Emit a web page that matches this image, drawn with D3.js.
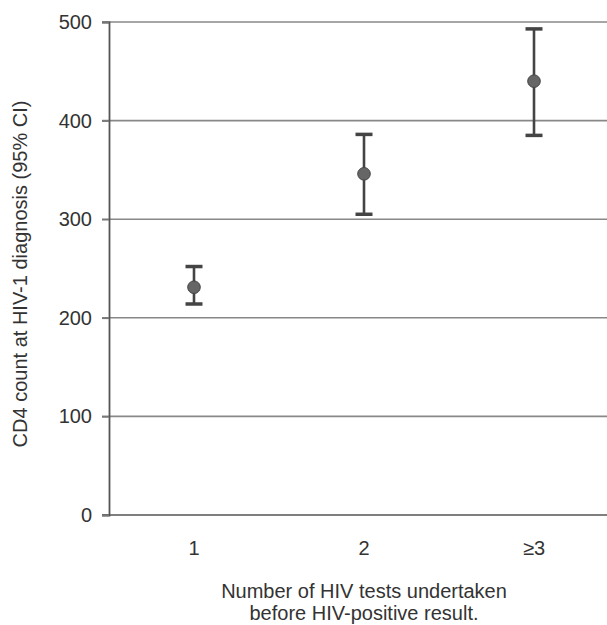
<!DOCTYPE html>
<html>
<head>
<meta charset="utf-8">
<script src="https://cdn.jsdelivr.net/npm/d3@7"></script>
<style>
  body { margin: 0; background: #fff; }
  text { font-family: 'Liberation Sans', Arial, sans-serif; fill: #333; }
</style>
</head>
<body>
<div id="chart"></div>
<script>
/* values */
const categories = ['1', '2', '≥3'];
const means = [231, 346, 440];
const lower = [214, 305, 385];
const upper = [252, 386, 493];
const yTicks = [0, 100, 200, 300, 400, 500];

const width = 607;
const height = 625;

const svg = d3.select('#chart')
  .append('svg')
  .attr('width', width)
  .attr('height', height);

/* x positions 1..3, right part of the panel is cut off like in the scan */
const x = d3.scaleLinear()
  .domain([0.5, 3.5])
  .range([109, 619]);

const y = d3.scaleLinear()
  .domain([0, 500])
  .range([515, 22]);

/* horizontal grid lines */
svg.selectAll('.grid')
  .data(yTicks)
  .enter()
  .append('line')
  .attr('class', 'grid')
  .attr('x1', 102)
  .attr('x2', width)
  .attr('y1', function (d) { return y(d); })
  .attr('y2', function (d) { return y(d); })
  .attr('stroke', function (d) { return d === 0 ? '#555' : '#888'; })
  .attr('stroke-width', 1.6);

/* left axis */
const yAxis = svg.append('g')
  .attr('transform', 'translate(109,0)')
  .call(d3.axisLeft(y).tickValues(yTicks).tickSize(7).tickPadding(10));
yAxis.select('.domain').attr('stroke', '#555').attr('stroke-width', 1.8);
yAxis.selectAll('.tick line').attr('stroke', '#777').attr('stroke-width', 1.6);
yAxis.selectAll('.tick text')
  .style('font-family', "'Liberation Sans', Arial, sans-serif")
  .style('font-size', '20px')
  .attr('fill', '#333');

/* category labels */
svg.selectAll('.xlab')
  .data(categories)
  .enter()
  .append('text')
  .attr('class', 'xlab')
  .attr('x', function (d, i) { return x(i + 1); })
  .attr('y', 555)
  .attr('text-anchor', 'middle')
  .style('font-size', '20px')
  .text(function (d) { return d; });

/* error bars */
const capW = 17;
const bars = svg.selectAll('.bar')
  .data(categories)
  .enter()
  .append('g')
  .attr('class', 'bar');
bars.append('line')
  .attr('x1', function (d, i) { return x(i + 1); })
  .attr('x2', function (d, i) { return x(i + 1); })
  .attr('y1', function (d, i) { return y(lower[i]); })
  .attr('y2', function (d, i) { return y(upper[i]); })
  .attr('stroke', '#444')
  .attr('stroke-width', 2.6);
bars.append('line')
  .attr('x1', function (d, i) { return x(i + 1) - capW / 2; })
  .attr('x2', function (d, i) { return x(i + 1) + capW / 2; })
  .attr('y1', function (d, i) { return y(upper[i]); })
  .attr('y2', function (d, i) { return y(upper[i]); })
  .attr('stroke', '#444')
  .attr('stroke-width', 3.5);
bars.append('line')
  .attr('x1', function (d, i) { return x(i + 1) - capW / 2; })
  .attr('x2', function (d, i) { return x(i + 1) + capW / 2; })
  .attr('y1', function (d, i) { return y(lower[i]); })
  .attr('y2', function (d, i) { return y(lower[i]); })
  .attr('stroke', '#444')
  .attr('stroke-width', 3.5);
bars.append('circle')
  .attr('cx', function (d, i) { return x(i + 1); })
  .attr('cy', function (d, i) { return y(means[i]); })
  .attr('r', 6.3)
  .attr('fill', '#666')
  .attr('stroke', '#444')
  .attr('stroke-width', 1);

/* axis titles */
svg.append('text')
  .attr('transform', 'translate(27,' + 274 + ') rotate(-90)')
  .attr('text-anchor', 'middle')
  .style('font-size', '20px')
  .text('CD4 count at HIV-1 diagnosis (95% CI)');

svg.append('text')
  .attr('x', 364)
  .attr('y', 598)
  .attr('text-anchor', 'middle')
  .style('font-size', '20px')
  .text('Number of HIV tests undertaken');
svg.append('text')
  .attr('x', 364)
  .attr('y', 620)
  .attr('text-anchor', 'middle')
  .style('font-size', '20px')
  .text('before HIV-positive result.');
</script>
</body>
</html>
